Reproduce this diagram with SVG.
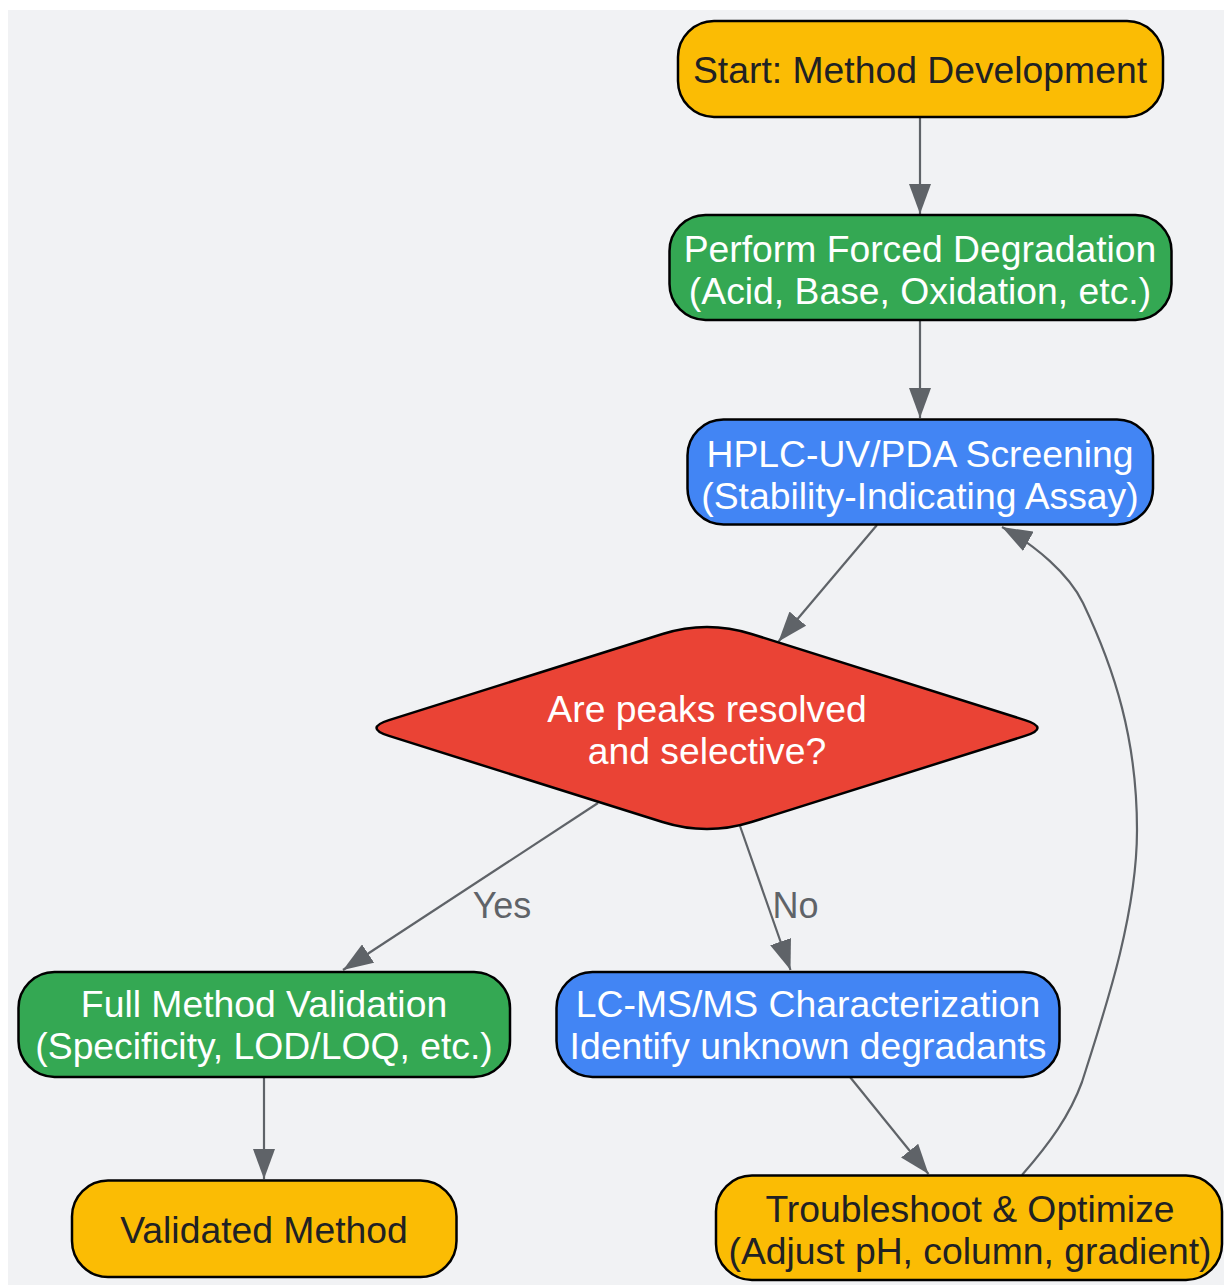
<svg xmlns="http://www.w3.org/2000/svg" width="1224" height="1285" viewBox="0 0 1224 1285">
<style>
.bg{fill:#f1f2f4}
.node{stroke:#000;stroke-width:2.5}
.y{fill:#fbbc04}
.g{fill:#34a853}
.b{fill:#4285f4}
.r{fill:#ea4335}
text{font-family:"Liberation Sans",Arial,Helvetica,sans-serif;font-size:37.3px;text-anchor:middle}
.dk{fill:#202124}
.wt{fill:#ffffff}
.lbl{fill:#5f6368;font-size:36px}
.edge{fill:none;stroke:#5f6368;stroke-width:2.2}
</style>
<defs>
<marker id="arr" markerUnits="userSpaceOnUse" markerWidth="30" markerHeight="22" refX="30" refY="11" orient="auto" viewBox="0 0 30 22">
<path d="M0,0 L30,11 L0,22 Z" fill="#5f6368"/>
</marker>
</defs>
<rect class="bg" x="8" y="10" width="1216" height="1275"/>
<g id="connectors">
<path class="edge" d="M920,117 L920,214" marker-end="url(#arr)"/>
<path class="edge" d="M920,320 L920,418" marker-end="url(#arr)"/>
<path class="edge" d="M877,525 L778.5,641.5" marker-end="url(#arr)"/>
<path class="edge" d="M598,803 L343,970" marker-end="url(#arr)"/>
<path class="edge" d="M740,826 L790.5,970" marker-end="url(#arr)"/>
<path class="edge" d="M264,1077 L264,1179" marker-end="url(#arr)"/>
<path class="edge" d="M850,1077 L928.5,1174" marker-end="url(#arr)"/>
<path class="edge" d="M1022,1175 C1050,1143 1070,1115 1082,1082 C1105,1010 1137,915 1137,830 C1137,740 1115,670 1083,603 C1069,574 1035,545 1002,527" marker-end="url(#arr)"/>
<text class="lbl" x="502" y="918">Yes</text>
<text class="lbl" x="795.5" y="918">No</text>
</g>
<g id="start">
<rect class="node y" x="678" y="21" width="485" height="96" rx="36"/>
<text class="dk" x="920" y="83">Start: Method Development</text>
</g>
<g id="degradation">
<rect class="node g" x="669.5" y="215" width="502" height="105" rx="36"/>
<text class="wt" x="920" y="262">Perform Forced Degradation</text>
<text class="wt" x="920" y="304">(Acid, Base, Oxidation, etc.)</text>
</g>
<g id="hplc">
<rect class="node b" x="687.5" y="419.5" width="465.5" height="105" rx="36"/>
<text class="wt" x="920" y="466.5">HPLC-UV/PDA Screening</text>
<text class="wt" x="920" y="508.5">(Stability-Indicating Assay)</text>
</g>
<g id="decision">
<path class="node r" d="M389,720.1 L662.5,634 Q707,620 751.5,634 L1025,720.1 Q1050,728 1025,735.9 L751.5,822 Q707,836 662.5,822 L389,735.9 Q364,728 389,720.1 Z"/>
<text class="wt" x="707" y="722">Are peaks resolved</text>
<text class="wt" x="707" y="764">and selective?</text>
</g>
<g id="validation">
<rect class="node g" x="18.5" y="972" width="491.5" height="105" rx="36"/>
<text class="wt" x="264" y="1017">Full Method Validation</text>
<text class="wt" x="264" y="1059">(Specificity, LOD/LOQ, etc.)</text>
</g>
<g id="lcms">
<rect class="node b" x="556.5" y="972" width="503" height="105" rx="36"/>
<text class="wt" x="808" y="1017">LC-MS/MS Characterization</text>
<text class="wt" x="808" y="1059">Identify unknown degradants</text>
</g>
<g id="validated">
<rect class="node y" x="72" y="1180.5" width="384.5" height="96.5" rx="36"/>
<text class="dk" x="264" y="1243">Validated Method</text>
</g>
<g id="troubleshoot">
<rect class="node y" x="716" y="1175.5" width="506" height="104.5" rx="36"/>
<text class="dk" x="970" y="1221.5">Troubleshoot &amp; Optimize</text>
<text class="dk" x="970" y="1263.5">(Adjust pH, column, gradient)</text>
</g>
</svg>
